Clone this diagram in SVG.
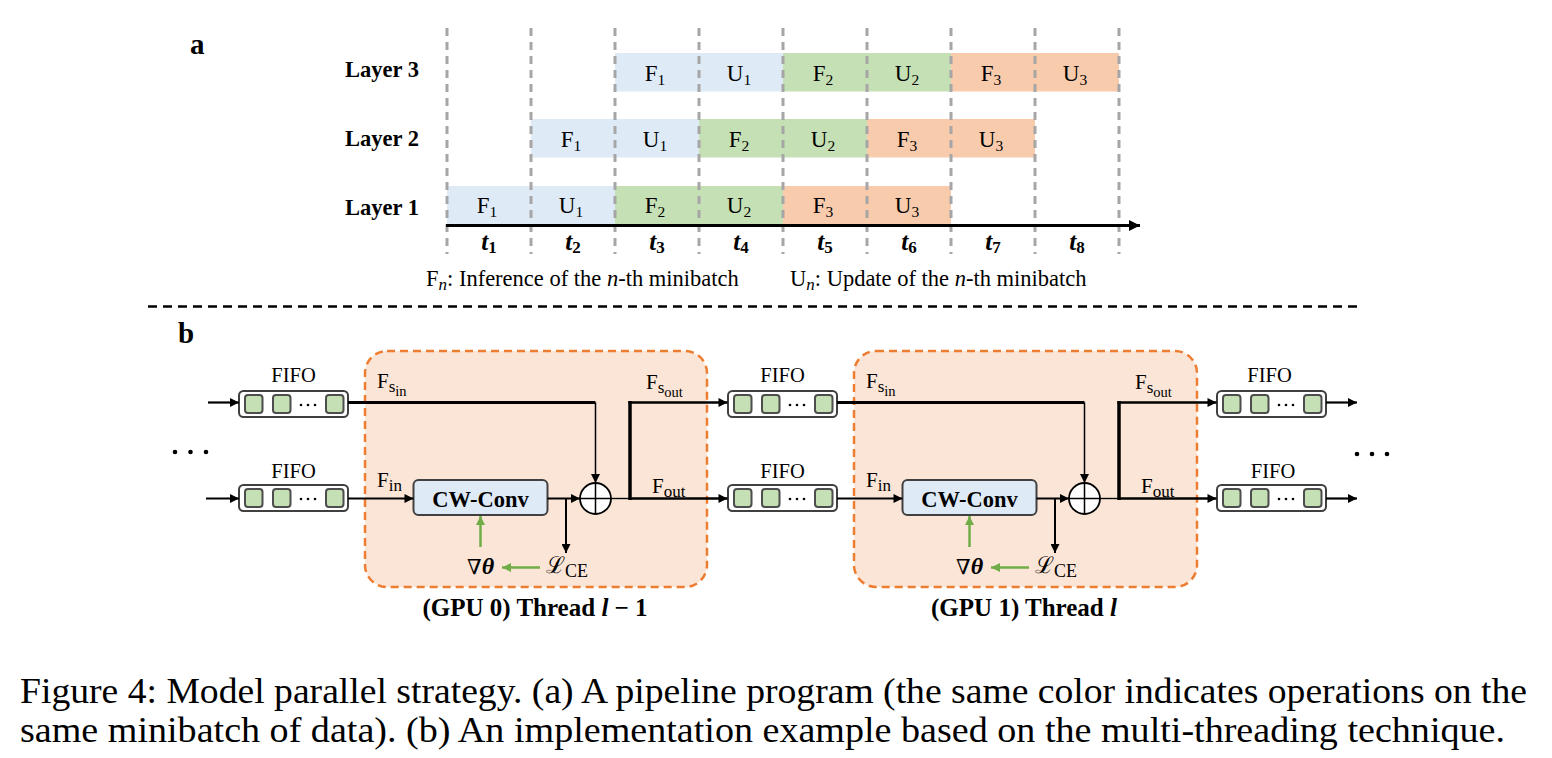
<svg xmlns="http://www.w3.org/2000/svg" width="1552" height="758" viewBox="0 0 1552 758">
<style>
text{font-family:"Liberation Serif","Times New Roman",serif;fill:#000}
.lay{font-size:22.5px;font-weight:bold}
.cell{font-size:23px}
.sub{font-size:15.5px}
.tl{font-size:25px;font-weight:bold;font-style:italic}
.vd{stroke:#a6a6a6;stroke-width:3;stroke-dasharray:8 6;fill:none}
.blue{fill:#deebf7}.green{fill:#c5e0b4}.orange{fill:#f8cbad}
.fifo-box{fill:#fff;stroke:#404040;stroke-width:2}
.fifo-cell{fill:#c5e0b4;stroke:#4d4d4d;stroke-width:2}
.thread{fill:#fbe5d6;stroke:#ed7d31;stroke-width:2.5;stroke-dasharray:8 5}
.conv{fill:#deebf7;stroke:#404040;stroke-width:2}
.ln{stroke:#000;fill:none}
.gr{stroke:#70ad47;stroke-width:2.5;fill:none}
.lbl{font-size:20.5px}
.thl{font-size:25px;font-weight:bold}
.cap{font-size:35px}
</style>
<defs>
<marker id="ah" viewBox="0 0 10 10" refX="10" refY="5" markerWidth="10" markerHeight="9" markerUnits="userSpaceOnUse" orient="auto"><path d="M0,0 L10,5 L0,10 z" fill="#000"/></marker>
<marker id="ahg" viewBox="0 0 10 10" refX="10" refY="5" markerWidth="10" markerHeight="9" markerUnits="userSpaceOnUse" orient="auto"><path d="M0,0 L10,5 L0,10 z" fill="#70ad47"/></marker>
<marker id="ahx" viewBox="0 0 10 10" refX="10" refY="5" markerWidth="14" markerHeight="11" markerUnits="userSpaceOnUse" orient="auto"><path d="M0,0 L10,5 L0,10 z" fill="#000"/></marker>
<g id="fifo">
<rect class="fifo-box" x="0" y="0" width="109" height="26" rx="4.5"/>
<rect class="fifo-cell" x="6" y="4" width="17.5" height="18" rx="3"/>
<rect class="fifo-cell" x="34" y="4" width="17.5" height="18" rx="3"/>
<rect class="fifo-cell" x="87" y="4" width="17.5" height="18" rx="3"/>
<circle cx="62" cy="14" r="1.3"/><circle cx="69" cy="14" r="1.3"/><circle cx="76" cy="14" r="1.3"/>
</g>
</defs>
<rect width="1552" height="758" fill="#fff"/>

<!-- ===== Part a ===== -->
<text x="190" y="54" font-size="29" font-weight="bold">a</text>
<g id="labels-a">
<text class="lay" x="345" y="77">Layer 3</text>
<text class="lay" x="345" y="146">Layer 2</text>
<text class="lay" x="345" y="215">Layer 1</text>
</g>
<g id="bars">
<rect class="blue" x="615" y="53" width="84" height="38.5"/>
<rect class="blue" x="699" y="53" width="84" height="38.5"/>
<rect class="green" x="783" y="53" width="84" height="38.5"/>
<rect class="green" x="867" y="53" width="84" height="38.5"/>
<rect class="orange" x="951" y="53" width="84" height="38.5"/>
<rect class="orange" x="1035" y="53" width="84" height="38.5"/>
<rect class="blue" x="531" y="119" width="84" height="38.5"/>
<rect class="blue" x="615" y="119" width="84" height="38.5"/>
<rect class="green" x="699" y="119" width="84" height="38.5"/>
<rect class="green" x="783" y="119" width="84" height="38.5"/>
<rect class="orange" x="867" y="119" width="84" height="38.5"/>
<rect class="orange" x="951" y="119" width="84" height="38.5"/>
<rect class="blue" x="447" y="186" width="84" height="38.5"/>
<rect class="blue" x="531" y="186" width="84" height="38.5"/>
<rect class="green" x="615" y="186" width="84" height="38.5"/>
<rect class="green" x="699" y="186" width="84" height="38.5"/>
<rect class="orange" x="783" y="186" width="84" height="38.5"/>
<rect class="orange" x="867" y="186" width="84" height="38.5"/>
</g>
<g id="bar-text" class="cell" text-anchor="middle">
<text x="655" y="81">F<tspan class="sub" dy="4">1</tspan></text>
<text x="739" y="81">U<tspan class="sub" dy="4">1</tspan></text>
<text x="823" y="81">F<tspan class="sub" dy="4">2</tspan></text>
<text x="907" y="81">U<tspan class="sub" dy="4">2</tspan></text>
<text x="991" y="81">F<tspan class="sub" dy="4">3</tspan></text>
<text x="1075" y="81">U<tspan class="sub" dy="4">3</tspan></text>
<text x="571" y="147">F<tspan class="sub" dy="4">1</tspan></text>
<text x="655" y="147">U<tspan class="sub" dy="4">1</tspan></text>
<text x="739" y="147">F<tspan class="sub" dy="4">2</tspan></text>
<text x="823" y="147">U<tspan class="sub" dy="4">2</tspan></text>
<text x="907" y="147">F<tspan class="sub" dy="4">3</tspan></text>
<text x="991" y="147">U<tspan class="sub" dy="4">3</tspan></text>
<text x="487" y="213">F<tspan class="sub" dy="4">1</tspan></text>
<text x="571" y="213">U<tspan class="sub" dy="4">1</tspan></text>
<text x="655" y="213">F<tspan class="sub" dy="4">2</tspan></text>
<text x="739" y="213">U<tspan class="sub" dy="4">2</tspan></text>
<text x="823" y="213">F<tspan class="sub" dy="4">3</tspan></text>
<text x="907" y="213">U<tspan class="sub" dy="4">3</tspan></text>
</g>
<g id="gridlines">
<line class="vd" x1="447" y1="28" x2="447" y2="254"/>
<line class="vd" x1="531" y1="28" x2="531" y2="254"/>
<line class="vd" x1="615" y1="28" x2="615" y2="254"/>
<line class="vd" x1="699" y1="28" x2="699" y2="254"/>
<line class="vd" x1="783" y1="28" x2="783" y2="254"/>
<line class="vd" x1="867" y1="28" x2="867" y2="254"/>
<line class="vd" x1="951" y1="28" x2="951" y2="254"/>
<line class="vd" x1="1035" y1="28" x2="1035" y2="254"/>
<line class="vd" x1="1119" y1="28" x2="1119" y2="254"/>
</g>
<g id="axis">
<line class="ln" x1="446" y1="225.5" x2="1140" y2="225.5" stroke-width="3.2" marker-end="url(#ahx)"/>
</g>
<g id="time-labels" class="tl" text-anchor="middle">
<text x="489" y="250">t<tspan font-size="17" font-style="normal" dy="3">1</tspan></text>
<text x="573" y="250">t<tspan font-size="17" font-style="normal" dy="3">2</tspan></text>
<text x="657" y="250">t<tspan font-size="17" font-style="normal" dy="3">3</tspan></text>
<text x="741" y="250">t<tspan font-size="17" font-style="normal" dy="3">4</tspan></text>
<text x="825" y="250">t<tspan font-size="17" font-style="normal" dy="3">5</tspan></text>
<text x="909" y="250">t<tspan font-size="17" font-style="normal" dy="3">6</tspan></text>
<text x="993" y="250">t<tspan font-size="17" font-style="normal" dy="3">7</tspan></text>
<text x="1077" y="250">t<tspan font-size="17" font-style="normal" dy="3">8</tspan></text>
</g>
<g id="legend" font-size="22.5">
<text x="426" y="286">F<tspan font-size="17" font-style="italic" dy="4">n</tspan><tspan dy="-4">: Inference of the </tspan><tspan font-style="italic">n</tspan>-th minibatch</text>
<text x="790" y="286">U<tspan font-size="17" font-style="italic" dy="4">n</tspan><tspan dy="-4">: Update of the </tspan><tspan font-style="italic">n</tspan>-th minibatch</text>
</g>

<line x1="148" y1="306.5" x2="1358" y2="306.5" stroke="#000" stroke-width="2.5" stroke-dasharray="9 6"/>

<!-- ===== Part b ===== -->
<text x="178" y="343" font-size="29" font-weight="bold">b</text>

<g id="thread0">
<rect class="thread" x="365" y="351" width="342" height="236" rx="22"/>
<text class="thl" x="535" y="616" text-anchor="middle">(GPU 0) Thread <tspan font-style="italic">l</tspan> − 1</text>
</g>
<g id="thread1">
<rect class="thread" x="854" y="351" width="343" height="236" rx="22"/>
<text class="thl" x="1024" y="616" text-anchor="middle">(GPU 1) Thread <tspan font-style="italic">l</tspan></text>
</g>

<g id="fifo-l-top"><use href="#fifo" x="239" y="391"/><text class="lbl" x="293.5" y="381.5" text-anchor="middle">FIFO</text></g>
<g id="fifo-l-bot"><use href="#fifo" x="239" y="485"/><text class="lbl" x="293.5" y="477.5" text-anchor="middle">FIFO</text></g>
<g id="fifo-m-top"><use href="#fifo" x="728" y="391"/><text class="lbl" x="782.5" y="381.5" text-anchor="middle">FIFO</text></g>
<g id="fifo-m-bot"><use href="#fifo" x="728" y="485"/><text class="lbl" x="782.5" y="477.5" text-anchor="middle">FIFO</text></g>
<g id="fifo-r-top"><use href="#fifo" x="1217" y="391"/><text class="lbl" x="1269.5" y="381.5" text-anchor="middle">FIFO</text></g>
<g id="fifo-r-bot"><use href="#fifo" x="1217" y="485"/><text class="lbl" x="1273" y="477.5" text-anchor="middle">FIFO</text></g>

<g id="conv0"><rect class="conv" x="413.5" y="480" width="134" height="35" rx="5"/><text x="480.5" y="507" font-size="22.5" font-weight="bold" text-anchor="middle">CW-Conv</text></g>
<g id="conv1"><rect class="conv" x="902.5" y="480" width="134" height="35" rx="5"/><text x="969.5" y="507" font-size="22.5" font-weight="bold" text-anchor="middle">CW-Conv</text></g>

<g id="plus0"><circle cx="595.5" cy="498.5" r="15.5" fill="#fff" stroke="#000" stroke-width="1.8"/><path d="M580,498.5 H611 M595.5,483 V514" stroke="#000" stroke-width="1.5"/></g>
<g id="plus1"><circle cx="1084.5" cy="498.5" r="15.5" fill="#fff" stroke="#000" stroke-width="1.8"/><path d="M1069,498.5 H1100 M1084.5,483 V514" stroke="#000" stroke-width="1.5"/></g>

<g id="loss0">
<text x="467" y="574" font-size="24"><tspan font-family="DejaVu Serif, serif" font-size="21">∇</tspan><tspan font-weight="bold" font-style="italic">θ</tspan></text>
<text x="546" y="573" font-size="23" font-family="DejaVu Serif, serif">ℒ<tspan font-family="Liberation Serif, serif" font-size="18" dy="4">CE</tspan></text>
</g>
<g id="loss1">
<text x="956" y="574" font-size="24"><tspan font-family="DejaVu Serif, serif" font-size="21">∇</tspan><tspan font-weight="bold" font-style="italic">θ</tspan></text>
<text x="1035" y="573" font-size="23" font-family="DejaVu Serif, serif">ℒ<tspan font-family="Liberation Serif, serif" font-size="18" dy="4">CE</tspan></text>
</g>

<g id="edge-labels" font-size="21">
<text x="377" y="388">F<tspan font-size="17" dy="4">s</tspan><tspan font-size="14.5" dy="4">in</tspan></text>
<text x="377" y="487">F<tspan font-size="17" dy="4">in</tspan></text>
<text x="646" y="389">F<tspan font-size="17" dy="4">s</tspan><tspan font-size="14.5" dy="4">out</tspan></text>
<text x="652" y="493">F<tspan font-size="17" dy="4">out</tspan></text>
<text x="866" y="388">F<tspan font-size="17" dy="4">s</tspan><tspan font-size="14.5" dy="4">in</tspan></text>
<text x="866" y="487">F<tspan font-size="17" dy="4">in</tspan></text>
<text x="1135" y="389">F<tspan font-size="17" dy="4">s</tspan><tspan font-size="14.5" dy="4">out</tspan></text>
<text x="1141" y="493">F<tspan font-size="17" dy="4">out</tspan></text>
</g>

<g id="dots">
<circle cx="175" cy="452" r="2.3"/><circle cx="190.5" cy="452" r="2.3"/><circle cx="206" cy="452" r="2.3"/>
<circle cx="1357" cy="454" r="2.3"/><circle cx="1372" cy="454" r="2.3"/><circle cx="1387" cy="454" r="2.3"/>
</g>

<g id="connectors">
<line class="ln" x1="208" y1="402.5" x2="239" y2="402.5" stroke-width="2.2" marker-end="url(#ah)"/>
<line class="ln" x1="206" y1="498.5" x2="239" y2="498.5" stroke-width="2.2" marker-end="url(#ah)"/>
<path class="ln" d="M348,402.5 H595.5" stroke-width="3"/>
<line class="ln" x1="595.5" y1="402.5" x2="595.5" y2="483" stroke-width="1.5" marker-end="url(#ah)"/>
<line class="ln" x1="348" y1="498.5" x2="413.5" y2="498.5" stroke-width="2" marker-end="url(#ah)"/>
<line class="ln" x1="547.5" y1="498.5" x2="580" y2="498.5" stroke-width="2" marker-end="url(#ah)"/>
<line class="ln" x1="566" y1="498.5" x2="566" y2="553" stroke-width="2" marker-end="url(#ah)"/>
<line class="ln" x1="611" y1="498.5" x2="630" y2="498.5" stroke-width="1.4"/>
<line class="ln" x1="630" y1="500" x2="630" y2="401" stroke-width="3.5"/>
<line class="ln" x1="628.5" y1="402.5" x2="727.5" y2="402.5" stroke-width="2.5" marker-end="url(#ah)"/>
<line class="ln" x1="630" y1="498.5" x2="727.5" y2="498.5" stroke-width="2.5" marker-end="url(#ah)"/>
<line class="gr" x1="480.5" y1="547" x2="480.5" y2="516" marker-end="url(#ahg)"/>
<line class="gr" x1="540" y1="567.5" x2="502" y2="567.5" marker-end="url(#ahg)"/>
<path class="ln" d="M837,402.5 H1084.5" stroke-width="3"/>
<line class="ln" x1="1084.5" y1="402.5" x2="1084.5" y2="483" stroke-width="1.5" marker-end="url(#ah)"/>
<line class="ln" x1="837" y1="498.5" x2="902.5" y2="498.5" stroke-width="2" marker-end="url(#ah)"/>
<line class="ln" x1="1036.5" y1="498.5" x2="1069" y2="498.5" stroke-width="2" marker-end="url(#ah)"/>
<line class="ln" x1="1055" y1="498.5" x2="1055" y2="553" stroke-width="2" marker-end="url(#ah)"/>
<line class="ln" x1="1100" y1="498.5" x2="1119" y2="498.5" stroke-width="1.4"/>
<line class="ln" x1="1119" y1="500" x2="1119" y2="401" stroke-width="3.5"/>
<line class="ln" x1="1117.5" y1="402.5" x2="1216.5" y2="402.5" stroke-width="2.5" marker-end="url(#ah)"/>
<line class="ln" x1="1119" y1="498.5" x2="1216.5" y2="498.5" stroke-width="2.5" marker-end="url(#ah)"/>
<line class="gr" x1="969.5" y1="547" x2="969.5" y2="516" marker-end="url(#ahg)"/>
<line class="gr" x1="1029" y1="567.5" x2="991" y2="567.5" marker-end="url(#ahg)"/>
<line class="ln" x1="1326" y1="402.5" x2="1357" y2="402.5" stroke-width="2.2" marker-end="url(#ah)"/>
<line class="ln" x1="1326" y1="498.5" x2="1357" y2="498.5" stroke-width="2.2" marker-end="url(#ah)"/>
</g>

<g id="caption" class="cap">
<text x="20" y="703" textLength="1507" lengthAdjust="spacingAndGlyphs">Figure 4: Model parallel strategy. (a) A pipeline program (the same color indicates operations on the</text>
<text x="20" y="742" textLength="1485" lengthAdjust="spacingAndGlyphs">same minibatch of data). (b) An implementation example based on the multi-threading technique.</text>
</g>
</svg>
